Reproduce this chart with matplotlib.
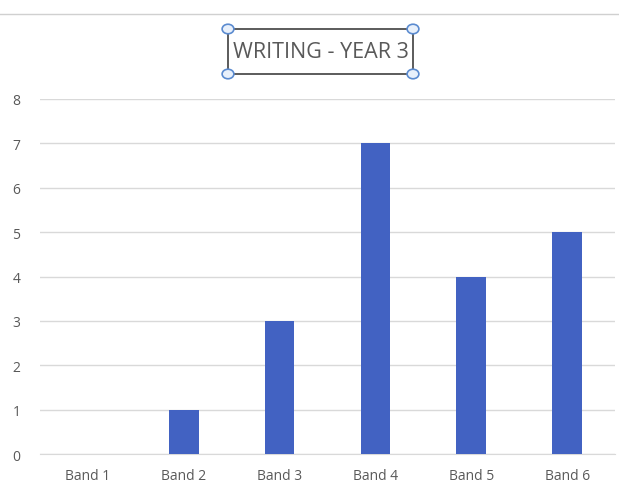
import matplotlib.pyplot as plt
from matplotlib.patches import Rectangle, Circle

categories = ["Band 1", "Band 2", "Band 3", "Band 4", "Band 5", "Band 6"]
values = [0, 1, 3, 7, 4, 5]
yticks = [0, 1, 2, 3, 4, 5, 6, 7, 8]
title = "WRITING - YEAR 3"

plt.rcParams['font.family'] = ['Open Sans', 'DejaVu Sans']

fig = plt.figure(figsize=(6.19, 5.02), dpi=100)
ax = fig.add_axes([0.0646, 0.0936, 0.929, 0.7072])

x = range(len(categories))
ax.bar(x, values, width=0.31, color='#4262C2', zorder=3)
ax.set_xlim(-0.5, len(categories) - 0.5)
ax.set_ylim(0, 8)
ax.set_yticks(yticks)
ax.set_xticks(list(x))
ax.set_xticklabels(categories)
ax.yaxis.grid(True, color='#D9D9D9', linewidth=1, zorder=0)
for s in ax.spines.values():
    s.set_visible(False)
ax.spines['bottom'].set_visible(True)
ax.spines['bottom'].set_color('#D9D9D9')
ax.tick_params(axis='both', length=0, labelsize=10, colors='#595959')
ax.tick_params(axis='x', pad=10)
ax.tick_params(axis='y', pad=14)

# title box with selection handles
fig.text(0.518, 0.896, title, ha='center', va='center', fontsize=15.5, color='#595959')
x0, x1 = 228 / 619, 413 / 619
y0, y1 = 1 - 75 / 502, 1 - 30 / 502
fig.patches.append(Rectangle((x0, y0), x1 - x0, y1 - y0, transform=fig.transFigure,
                             fill=False, edgecolor='#404040', linewidth=1.2))
for hx in (x0, x1):
    for hy in (y0, y1):
        fig.patches.append(Circle((hx, hy), 0.0095, transform=fig.transFigure,
                                  facecolor='#E8F0FB', edgecolor='#5B8BD0', linewidth=1.2))
fig.add_artist(plt.Line2D([0, 1], [1 - 15 / 502, 1 - 15 / 502], transform=fig.transFigure,
                          color='#D0D0D0', linewidth=1))

fig.savefig('out.png', dpi=100)
